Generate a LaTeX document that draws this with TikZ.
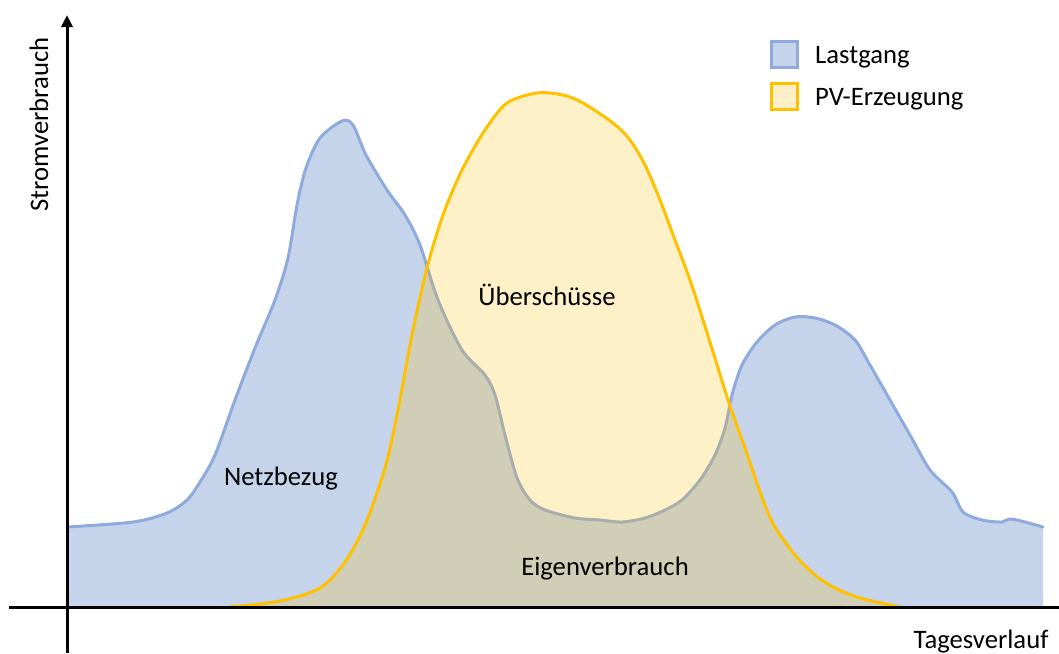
\documentclass[tikz,border=0pt]{standalone}
\usepackage{fontspec}
\setmainfont{Carlito}
\usetikzlibrary{arrows.meta}
\definecolor{lastline}{HTML}{8FAADC}
\definecolor{lastfill}{HTML}{C5D3EB}
\definecolor{pvline}{HTML}{FFC000}
\definecolor{pvfill}{HTML}{FDF0C8}
\tikzset{
  lbl/.style={font=\fontsize{26.67}{32}\selectfont, inner sep=0pt, anchor=base},
  axis/.style={line width=3pt, black},
  lastcurve/.style={line width=3pt, lastline, line join=round, line cap=round},
  pvcurve/.style={line width=3pt, pvline, line join=round, line cap=round},
}
\begin{document}
\begin{tikzpicture}[x=1pt,y=-1pt]
\useasboundingbox (0,0) rectangle (1059,653);
\def\lastpts{(67,527) (133,522) (167,513) (187,500) (200,482) (215,455) (235,400) (255,348) (275,300) (288,258) (297,205) (306,168) (320,138) (342,121) (353,125) (366,155) (387,190) (405,215) (420,245) (438,300) (462,350) (485,375) (495,395) (505,435) (517,478) (530,500) (545,510) (575,518) (600,520) (622,522) (645,518) (665,510) (682,500) (700,480) (715,455) (725,428) (732,395) (742,365) (757,342) (775,325) (795,317) (815,318) (835,325) (855,340) (870,365) (890,400) (910,435) (930,470) (952,492) (963,512) (982,520) (1002,522) (1012,519) (1043,527)}
\def\pvpts{(230,607) (280,601) (320,588) (345,562) (365,525) (385,468) (398,410) (412,335) (427,268) (443,215) (462,170) (485,130) (507,103) (537,93) (563,95) (583,103) (613,123) (630,140) (645,165) (660,200) (675,240) (690,280) (703,320) (714,355) (729,403) (745,448) (763,500) (775,527) (795,555) (815,575) (835,588) (860,598) (900,607)}
% Lastgang
\fill[lastfill] plot[smooth, tension=0.5] coordinates {\lastpts} -- (1043,607) -- (67,607) -- cycle;
\draw[lastcurve] plot[smooth, tension=0.5] coordinates {\lastpts};
% PV
\fill[pvline, fill opacity=0.22] plot[smooth, tension=0.5] coordinates {\pvpts} -- cycle;
\draw[pvcurve] plot[smooth, tension=0.5] coordinates {\pvpts};
% axes
\coordinate (xs) at (9,607);
\coordinate (xe) at (1059,607);
\coordinate (ys) at (67,653);
\coordinate (ye) at (67,15);
\draw[axis] (xs) -- (xe);
\draw[axis, -{Triangle[length=12pt,width=11pt]}] (ys) -- (ye);
% labels
\node[lbl, rotate=90] (ylab) at (48,124.5) {Stromverbrauch};
\node[lbl] (xlab) at (981,648) {Tagesverlauf};
\node[lbl] (netz) at (281,485) {Netzbezug};
\node[lbl] (ueber) at (547,305) {Überschüsse};
\node[lbl] (eigen) at (605,575) {Eigenverbrauch};
% legend
\draw[line width=3pt, lastline, fill=lastfill] (771,41) rectangle (797,67);
\draw[line width=3pt, pvline, fill=pvfill] (771,83) rectangle (797,109);
\node[lbl, anchor=base west] (leg1) at (815,63) {Lastgang};
\node[lbl, anchor=base west] (leg2) at (815,105) {PV-Erzeugung};
\end{tikzpicture}
\end{document}
